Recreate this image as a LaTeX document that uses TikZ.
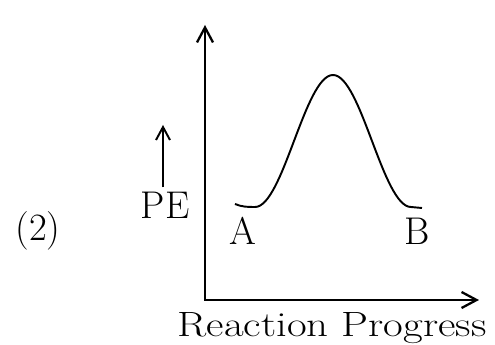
\documentclass[tikz,border=0pt]{standalone}
\usepackage{tikz}
\usetikzlibrary{arrows.meta,positioning}
\tikzset{
  ax/.style={{Straight Barb[length=3mm,width=3.2mm]}-{Straight Barb[length=3mm,width=3.2mm]},line width=1.3pt},
  ar/.style={-{Straight Barb[length=2.6mm,width=2.8mm]},line width=1.1pt},
  lbl/.style={font=\fontsize{22}{26}\selectfont,inner sep=0pt}
}
\begin{document}
\begin{tikzpicture}[x=0.02cm,y=0.02cm]
\useasboundingbox (0,0) rectangle (495,345);
\coordinate (top) at (205,320);
\coordinate (o) at (205,45);
\coordinate (right) at (479,45);
\draw[ax] (top) -- (o) -- (right);
\node[lbl] (num) at (38,114) {(2)};
\node[lbl] (pe) at (165,140) {PE};
\coordinate (petip) at (163,220);
\draw[ar] (pe.north -| petip) ++(0,4) -- (petip);
\node[lbl] (a) at (243,114) {A};
\node[lbl] (b) at (417,114) {B};
\node[lbl,font=\fontsize{20}{24}\selectfont,anchor=base] (xlab) at (332,8) {\scalebox{1.22}[1]{Reaction Progress}};
% energy curve
\draw[line width=1.1pt] (235,141) .. controls (242,138) and (248,138) .. (255,138)
  .. controls (283,138) and (305,270) .. (333,270)
  .. controls (361,270) and (383,138) .. (411,138) -- (422,137);
\end{tikzpicture}
\end{document}
